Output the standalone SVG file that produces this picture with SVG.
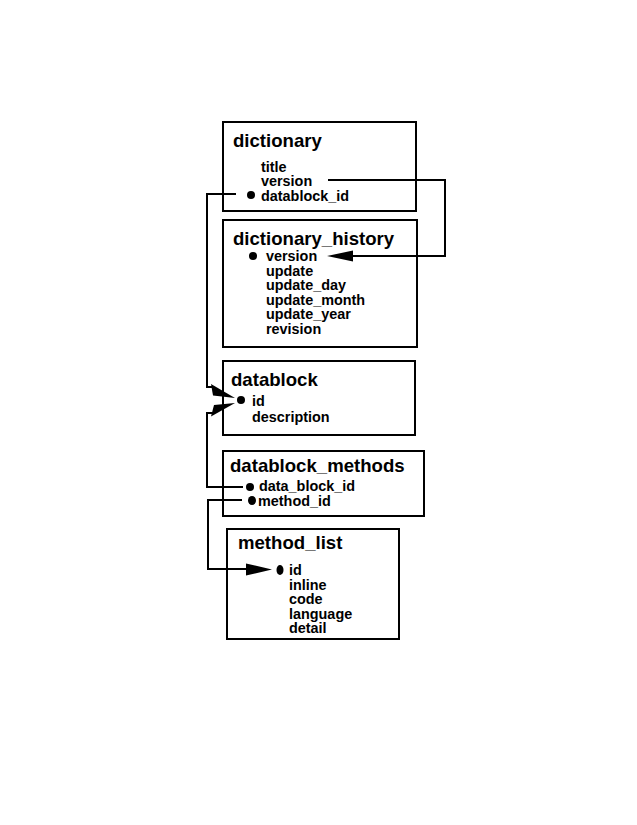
<svg xmlns="http://www.w3.org/2000/svg" width="637" height="825" viewBox="0 0 637 825">
<style>
.box{fill:#fff;stroke:#000;stroke-width:2}
.t{font-family:"Liberation Sans",Arial,sans-serif;font-weight:bold;font-size:18.6px;fill:#000}
.f{font-family:"Liberation Sans",Arial,sans-serif;font-weight:bold;font-size:14.4px;fill:#000}
.dot{fill:#000}
.ln{fill:none;stroke:#000;stroke-width:2}
.ah{fill:#000;stroke:none}
</style>
<rect width="637" height="825" fill="#fff"/>
<g id="dictionary">
<rect class="box" x="223" y="122" width="193" height="89"/>
<text class="t" x="233" y="147">dictionary</text>
<text class="f" x="261" y="171.5">title</text>
<text class="f" x="261" y="186">version</text>
<text class="f" x="261" y="200.5">datablock_id</text>
<circle class="dot" cx="251" cy="195" r="4"/>
</g>
<g id="dictionary_history">
<rect class="box" x="223" y="220" width="194" height="127"/>
<text class="t" x="233" y="244.5">dictionary_history</text>
<text class="f" x="266" y="261">version</text>
<text class="f" x="266" y="275.5">update</text>
<text class="f" x="266" y="290">update_day</text>
<text class="f" x="266" y="304.5">update_month</text>
<text class="f" x="266" y="319">update_year</text>
<text class="f" x="266" y="333.5">revision</text>
<circle class="dot" cx="253" cy="256" r="4"/>
</g>
<g id="datablock">
<rect class="box" x="223" y="361" width="192" height="74"/>
<text class="t" x="231" y="386">datablock</text>
<text class="f" x="252" y="406">id</text>
<text class="f" x="252" y="421.5">description</text>
<circle class="dot" cx="241" cy="400" r="4"/>
</g>
<g id="datablock_methods">
<rect class="box" x="223" y="451" width="201" height="65"/>
<text class="t" x="230" y="472">datablock_methods</text>
<text class="f" x="259" y="491">data_block_id</text>
<text class="f" x="258" y="505.5">method_id</text>
<circle class="dot" cx="250" cy="487" r="4"/>
<ellipse class="dot" cx="252" cy="500.5" rx="4" ry="4.5"/>
</g>
<g id="method_list">
<rect class="box" x="227" y="529" width="172" height="110"/>
<text class="t" x="238" y="548.5">method_list</text>
<text class="f" x="289" y="575">id</text>
<text class="f" x="289" y="589.5">inline</text>
<text class="f" x="289" y="604">code</text>
<text class="f" x="289" y="618.5">language</text>
<text class="f" x="289" y="633">detail</text>
<ellipse class="dot" cx="280" cy="570" rx="3.5" ry="5"/>
</g>
<g id="connectors">
<path class="ln" d="M328,180 H445 V256 H352"/>
<polygon class="ah" points="327,256 353,250.5 353,261.5"/>
<path class="ln" d="M236,194 H207 V387 H213"/>
<polygon class="ah" points="211,384 213,395.5 235,398"/>
<path class="ln" d="M243,487 H207 V413 H213"/>
<polygon class="ah" points="214,405 211,416.5 235,403"/>
<path class="ln" d="M242,500 H208 V569 H248"/>
<polygon class="ah" points="246,563.5 246,575.5 272,569.5"/>
</g>
</svg>
